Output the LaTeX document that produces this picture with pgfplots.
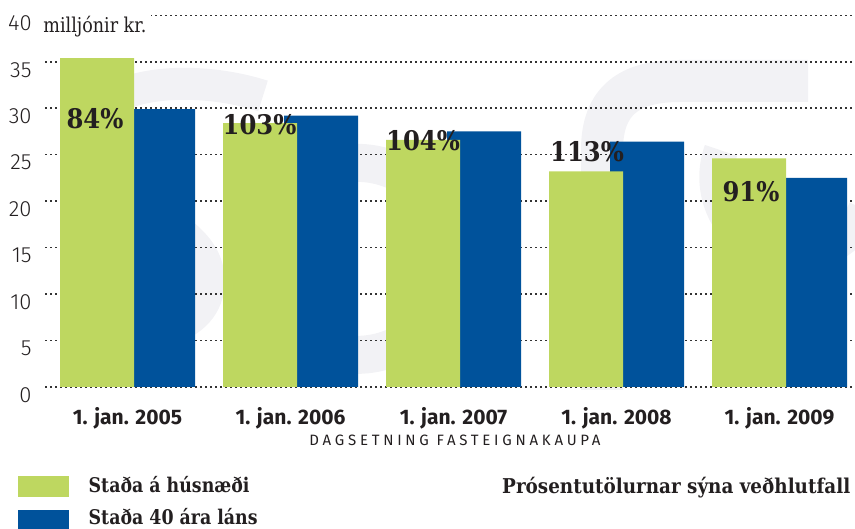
\documentclass[border=0pt]{standalone}
\usepackage{pgfplots}
\pgfplotsset{compat=1.18}
\usepackage{fontspec}
\setmainfont{DejaVu Serif}
\newfontfamily\serifc[FakeStretch=0.86]{DejaVu Serif}
\newfontfamily\serifp[FakeStretch=0.9]{DejaVu Serif}
\newfontfamily\fira{Fira Sans}
\newfontfamily\firalight{Fira Sans Light}
\newfontfamily\firacaps[LetterSpace=25]{Fira Sans}
\definecolor{lgreen}{RGB}{190,215,96}
\definecolor{dblue}{RGB}{0,82,155}
\definecolor{txt}{RGB}{35,31,32}
\definecolor{wm}{RGB}{242,242,245}
\begin{document}
\begin{tikzpicture}
\useasboundingbox (-22.5pt,-71pt) rectangle (405pt,193.5pt);
% faint background watermark (decorative), drawn in pixel units
\begin{scope}[shift={(-22.5pt,193.5pt)}, x=0.5pt, y=-0.5pt, draw=wm, line cap=butt]
  \draw[line width=16pt] (263,96) .. controls (220,82) and (160,78) .. (120,95)
        .. controls (85,115) and (85,170) .. (130,200)
        .. controls (170,225) and (215,245) .. (208,290)
        .. controls (200,335) and (130,345) .. (80,325);
  \draw[line width=19pt] (447,226) arc[start angle=-20, end angle=300, radius=96];
  \draw[line width=21pt] (602,390) -- (602,150) .. controls (602,100) and (630,81) .. (680,81) -- (808,81);
  \draw[line width=17pt] (865,210) arc[start angle=25, end angle=200, radius=78];
\end{scope}
\begin{axis}[
  scale only axis, width=405pt, height=185.85pt,
  xmin=45, xmax=855, ymin=0, ymax=40, enlargelimits=false,
  axis line style={draw=none}, tick style={draw=none},
  ytick={0,5,...,40},
  xtick={127.5,290.5,453.5,616.5,779.5},
  xticklabels={1. jan. 2005,1. jan. 2006,1. jan. 2007,1. jan. 2008,1. jan. 2009},
  ymajorgrids,
  major grid style={draw=black!80, line width=0.75pt, dash pattern=on 0.75pt off 1.75pt},
  /pgf/number format/assume math mode=true,
  yticklabel style={font=\firalight\fontsize{11pt}{12pt}\selectfont, text=txt, anchor=north east, inner sep=0pt, xshift=-6.5pt},
  xticklabel style={font=\fira\bfseries\fontsize{10.5pt}{11pt}\selectfont, text=txt, anchor=north, inner sep=0pt, yshift=-9.85pt},
  clip=false,
]
\addplot[ybar, bar width=74, bar shift=0pt, draw=none, fill=dblue] coordinates {(158,29.9) (321,29.2) (484,27.5) (647,26.4) (810,22.5)};
\addplot[ybar, bar width=74, bar shift=0pt, draw=none, fill=lgreen] coordinates {(97,35.4) (260,28.4) (423,26.6) (586,23.2) (749,24.6)};
\node[anchor=base, text=txt, font=\serifp\bfseries\fontsize{13.5pt}{14pt}\selectfont] at (axis cs:95,27.87) {84\%};
\node[anchor=base, text=txt, font=\serifp\bfseries\fontsize{13.5pt}{14pt}\selectfont] at (axis cs:259.5,27.12) {103\%};
\node[anchor=base, text=txt, font=\serifp\bfseries\fontsize{13.5pt}{14pt}\selectfont] at (axis cs:423,25.50) {104\%};
\node[anchor=base, text=txt, font=\serifp\bfseries\fontsize{13.5pt}{14pt}\selectfont] at (axis cs:587,24.32) {113\%};
\node[anchor=base, text=txt, font=\serifp\bfseries\fontsize{13.5pt}{14pt}\selectfont] at (axis cs:751,19.94) {91\%};
\node[anchor=north west, fill=white, inner xsep=2.5pt, inner ysep=1pt, yshift=1pt, xshift=-3.5pt, text=txt, font=\serifc\fontsize{10.2pt}{11pt}\selectfont] at (axis cs:45,40) {milljónir kr.};
\end{axis}
\node[anchor=base, text=txt, font=\firacaps\fontsize{7.5pt}{8pt}\selectfont] at (205pt,-29.35pt) {DAGSETNING FASTEIGNAKAUPA};
\fill[lgreen] (-13.35pt,-44.5pt) rectangle (12pt,-54.85pt);
\fill[dblue] (-13.35pt,-61.5pt) rectangle (12pt,-72pt);
\node[anchor=base west, inner sep=0pt, text=txt, font=\serifc\bfseries\fontsize{10.1pt}{11pt}\selectfont] at (21.65pt,-52.65pt) {Staða á húsnæði};
\node[anchor=base west, inner sep=0pt, text=txt, font=\serifc\bfseries\fontsize{10.1pt}{11pt}\selectfont] at (21.65pt,-68.85pt) {Staða 40 ára láns};
\node[anchor=base east, inner sep=0pt, text=txt, font=\serifp\bfseries\fontsize{10.2pt}{11pt}\selectfont] at (402.85pt,-53pt) {Prósentutölurnar sýna veðhlutfall};
\end{tikzpicture}
\end{document}
